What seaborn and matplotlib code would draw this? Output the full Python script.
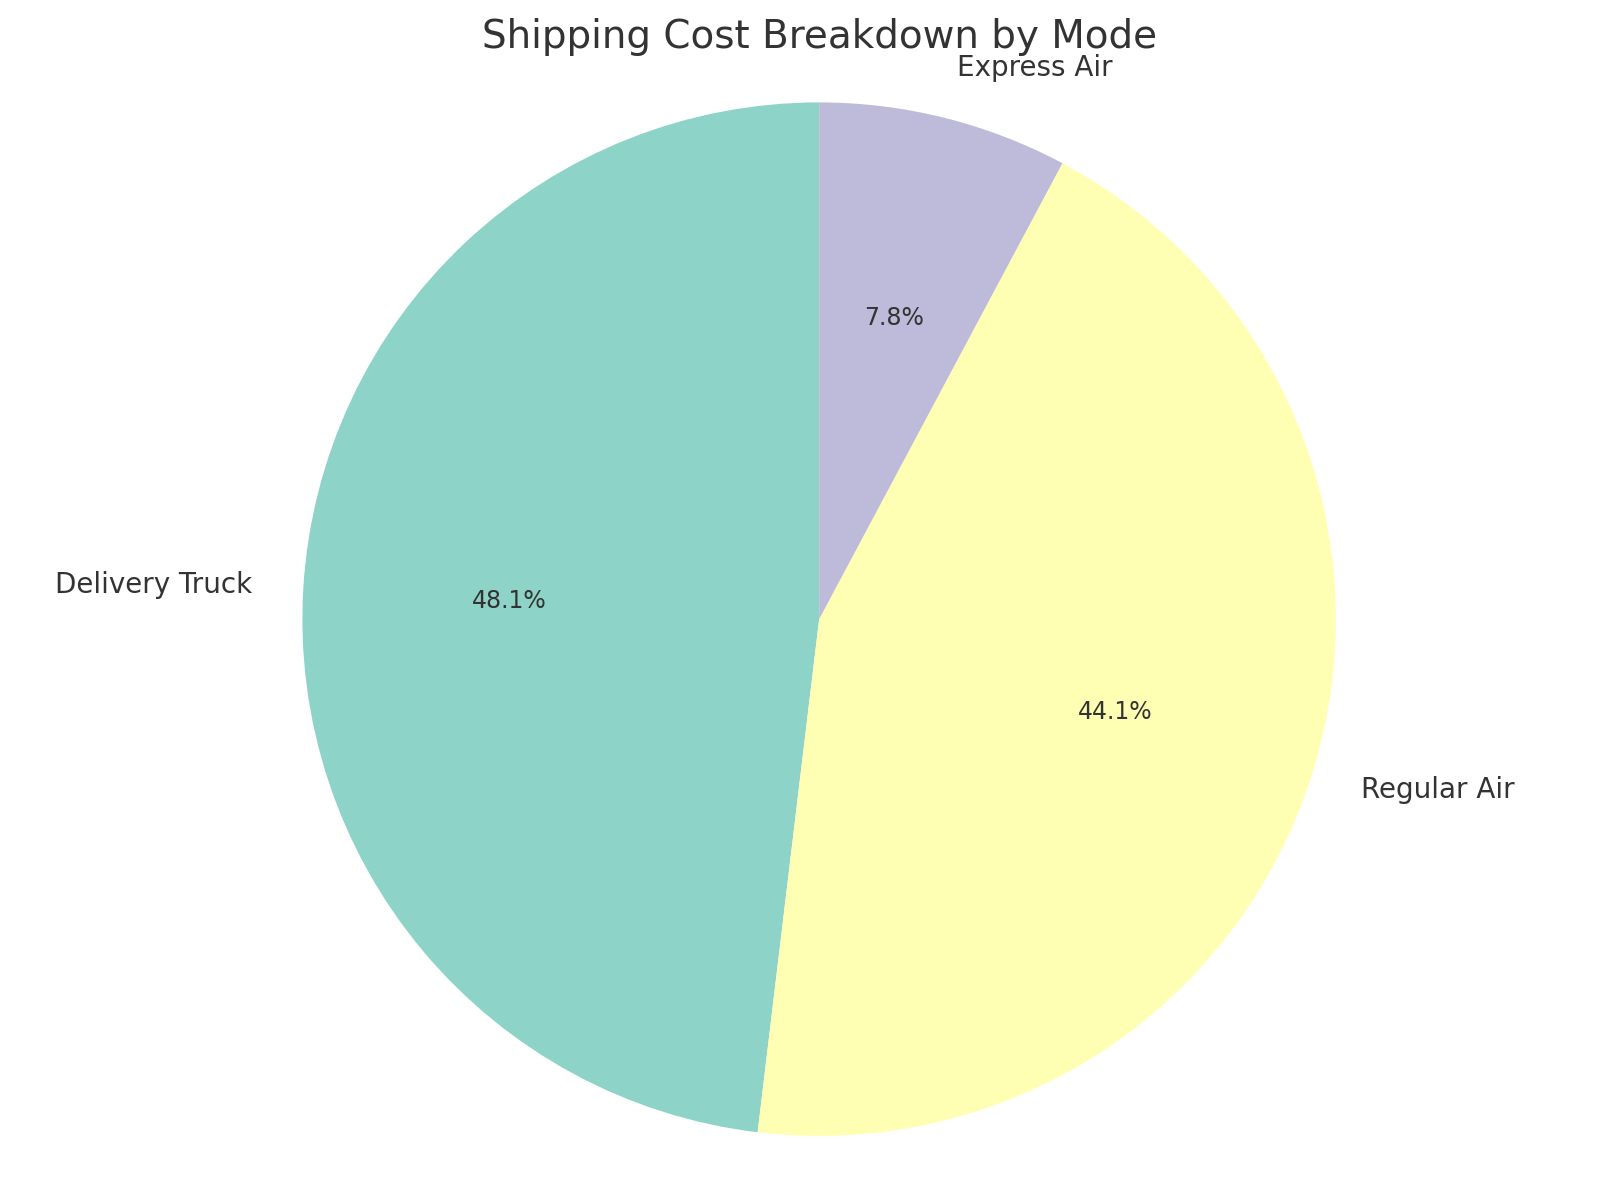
import matplotlib
matplotlib.use("Agg")
import matplotlib.pyplot as plt
import seaborn as sns

modes = ["Delivery Truck", "Regular Air", "Express Air"]
shares = [48.1, 44.1, 7.8]


def plot():
    sns.set_theme(style="white")
    colors = sns.color_palette("Set3", 3)

    fig, ax = plt.subplots(figsize=(16, 12), dpi=100)
    ax.pie(shares, labels=modes, colors=colors, autopct="%1.1f%%", startangle=90,
           wedgeprops={"linewidth": 0},
           textprops={"fontsize": 20, "color": "#333333"})
    for t in ax.texts:
        if t.get_text().endswith("%"):
            t.set_fontsize(17)
    ax.set_title("Shipping Cost Breakdown by Mode", fontsize=28, color="#333333")
    ax.axis("equal")
    plt.tight_layout()
    plt.savefig("out.png")


if __name__ == '__main__':
    plot()
